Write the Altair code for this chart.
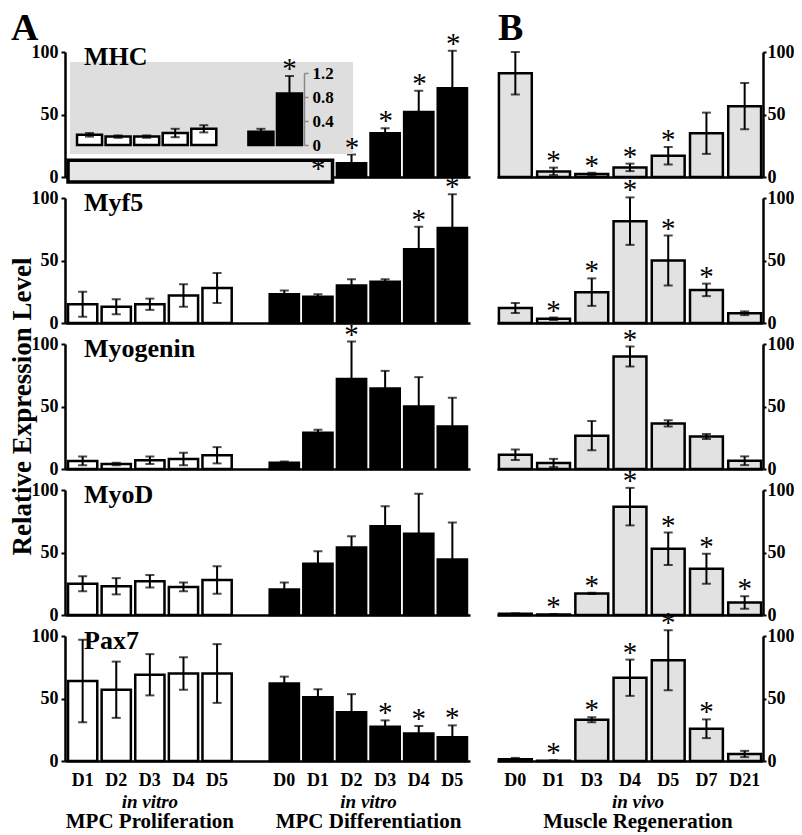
import altair as alt
import pandas as pd

FONT = "Liberation Serif"

GENES = ["MHC", "Myf5", "Myogenin", "MyoD", "Pax7"]
PROLIF_DAYS = ["D1", "D2", "D3", "D4", "D5"]
DIFF_DAYS = ["D0", "D1", "D2", "D3", "D4", "D5"]
REGEN_DAYS = ["D0", "D1", "D3", "D4", "D5", "D7", "D21"]

# ---- A: in vitro MPC proliferation (white bars) ----
MHC_PROLIF = [0.17, 0.14, 0.14, 0.20, 0.27]
MHC_PROLIF_ERR = [0.03, 0.02, 0.02, 0.07, 0.06]
MYF5_PROLIF = [15, 13, 15, 22, 28]
MYF5_PROLIF_ERR = [10, 6, 4.5, 9, 12]
MYOG_PROLIF = [6.5, 4, 7, 8, 11]
MYOG_PROLIF_ERR = [3.5, 1, 3, 5, 6.5]
MYOD_PROLIF = [25, 23, 27, 22.5, 28]
MYOD_PROLIF_ERR = [6, 6.5, 5, 3.5, 11]
PAX7_PROLIF = [64, 57, 69, 70, 70]
PAX7_PROLIF_ERR = [33, 22.5, 16.5, 13, 23.5]

# ---- A: in vitro MPC differentiation (black bars) ----
MHC_DIFF = [0.22, 0.86, 11, 35, 52, 71]
MHC_DIFF_ERR = [0.05, 0.29, 7, 4, 17, 30]
MHC_DIFF_SIG = [0, 1, 1, 1, 1, 1]
MYF5_DIFF = [23, 21, 30, 33, 59, 76]
MYF5_DIFF_ERR = [3, 2, 5, 2, 18, 27]
MYF5_DIFF_SIG = [0, 0, 0, 0, 1, 1]
MYOG_DIFF = [5, 29, 72, 64.5, 50, 34]
MYOG_DIFF_ERR = [1, 2.5, 30, 14, 23.5, 23]
MYOG_DIFF_SIG = [0, 0, 1, 0, 0, 0]
MYOD_DIFF = [20.5, 41, 54, 71, 65, 44.5]
MYOD_DIFF_ERR = [5.5, 10, 9, 16, 32, 29.5]
MYOD_DIFF_SIG = [0, 0, 0, 0, 0, 0]
PAX7_DIFF = [62, 51, 39, 27.5, 22, 19]
PAX7_DIFF_ERR = [5.5, 6.5, 14.5, 5, 6, 9.5]
PAX7_DIFF_SIG = [0, 0, 0, 1, 1, 1]

# ---- B: in vivo muscle regeneration (grey bars) ----
MHC_REGEN = [83, 4.5, 2.4, 7.7, 17, 35, 56.7]
MHC_REGEN_ERR = [17, 3, 1, 3, 7, 16.5, 18.5]
MHC_REGEN_SIG = [0, 1, 1, 1, 1, 0, 0]
MYF5_REGEN = [12, 3.4, 24.7, 81.5, 50, 26.5, 7.8]
MYF5_REGEN_ERR = [4, 1, 11, 19, 20, 5, 1.5]
MYF5_REGEN_SIG = [0, 1, 1, 1, 1, 1, 0]
MYOG_REGEN = [11.4, 4.8, 26.7, 90, 36.5, 26, 6.6]
MYOG_REGEN_ERR = [4.2, 3.3, 11.7, 8, 2.5, 2, 3.5]
MYOG_REGEN_SIG = [0, 0, 0, 1, 0, 0, 0]
MYOD_REGEN = [1, 0.5, 17.3, 86.7, 53, 37, 10]
MYOD_REGEN_ERR = [0.3, 0.2, 0.5, 15, 13, 12, 5]
MYOD_REGEN_SIG = [0, 1, 1, 1, 1, 1, 1]
PAX7_REGEN = [1.5, 0.3, 33, 66.6, 80.6, 25.8, 5.6]
PAX7_REGEN_ERR = [1, 0.2, 2, 14.5, 24, 7.5, 2.5]
PAX7_REGEN_SIG = [0, 1, 1, 1, 1, 1, 0]

# inset (MHC, zoomed 0-1.2 scale) and axis ticks
INSET_TICKS = [0, 0.4, 0.8, 1.2]
Y_TICKS = [0, 25, 50, 75, 100]
HIGHLIGHT_Y = [-4, 13.5]

GROUP_LABELS = [("in vitro", "MPC Proliferation"),
                ("in vitro", "MPC Differentiation"),
                ("in vivo", "Muscle Regeneration")]

A_DATA = {
    "MHC": (MHC_PROLIF, MHC_PROLIF_ERR, MHC_DIFF, MHC_DIFF_ERR, MHC_DIFF_SIG),
    "Myf5": (MYF5_PROLIF, MYF5_PROLIF_ERR, MYF5_DIFF, MYF5_DIFF_ERR, MYF5_DIFF_SIG),
    "Myogenin": (MYOG_PROLIF, MYOG_PROLIF_ERR, MYOG_DIFF, MYOG_DIFF_ERR, MYOG_DIFF_SIG),
    "MyoD": (MYOD_PROLIF, MYOD_PROLIF_ERR, MYOD_DIFF, MYOD_DIFF_ERR, MYOD_DIFF_SIG),
    "Pax7": (PAX7_PROLIF, PAX7_PROLIF_ERR, PAX7_DIFF, PAX7_DIFF_ERR, PAX7_DIFF_SIG),
}
B_DATA = {
    "MHC": (MHC_REGEN, MHC_REGEN_ERR, MHC_REGEN_SIG),
    "Myf5": (MYF5_REGEN, MYF5_REGEN_ERR, MYF5_REGEN_SIG),
    "Myogenin": (MYOG_REGEN, MYOG_REGEN_ERR, MYOG_REGEN_SIG),
    "MyoD": (MYOD_REGEN, MYOD_REGEN_ERR, MYOD_REGEN_SIG),
    "Pax7": (PAX7_REGEN, PAX7_REGEN_ERR, PAX7_REGEN_SIG),
}

A_KEYS = ["P|" + d for d in PROLIF_DAYS] + ["G|"] + ["C|" + d for d in DIFF_DAYS]
INSET_KEYS = A_KEYS[:8]

A_W, B_W, H = 405, 266, 125
GREY_BAR = "#e2e2e2"

xa_scale = alt.Scale(domain=A_KEYS, paddingInner=0.13, paddingOuter=0.09)
xb_scale = alt.Scale(domain=REGEN_DAYS, paddingInner=0.14, paddingOuter=0.05)
y_scale = alt.Scale(domain=[0, 100], nice=False, zero=False)


def y_axis(orient):
    return alt.Axis(orient=orient, values=Y_TICKS,
                    labelExpr="datum.value % 50 == 0 ? datum.label : ''",
                    tickSize=4 if orient == "left" else 3, tickWidth=2,
                    domainWidth=2.5, labelPadding=3 if orient == "left" else 1,
                    grid=False, title=None)


def x_axis(show, key_expr):
    return alt.Axis(labels=show, labelExpr=key_expr, ticks=False, domainWidth=2.5,
                    labelAngle=0, labelPadding=10, title=None, grid=False)


def bar_layers(df, xfield, xscale, xaxis, yaxis, fill):
    base = alt.Chart(df)
    x = alt.X(xfield, scale=xscale, axis=xaxis, title=None)
    xs = alt.X(xfield, scale=xscale, title=None)
    bars = base.mark_bar(stroke="black", strokeWidth=2.5).encode(
        x=x, y=alt.Y("v:Q", scale=y_scale, axis=yaxis, title=None), fill=fill)
    err = base.mark_rule(color="black", strokeWidth=2).encode(
        x=xs, y=alt.Y("lo:Q", scale=y_scale, title=None), y2="hi:Q")
    cap_hi = base.mark_tick(color="black", thickness=2, size=9).encode(
        x=xs, y=alt.Y("hi:Q", scale=y_scale, title=None))
    cap_lo = base.mark_tick(color="black", thickness=2, size=9).encode(
        x=xs, y=alt.Y("lo:Q", scale=y_scale, title=None))
    return [bars, err, cap_hi, cap_lo]


def star_layer(df, xfield, xscale, yscale, no_axis=False):
    kw = {"axis": None} if no_axis else {}
    return alt.Chart(df).transform_filter("datum.sig == 1").mark_text(
        text="*", font=FONT, fontSize=29, baseline="alphabetic", dy=2).encode(
        x=alt.X(xfield, scale=xscale, title=None, **kw),
        y=alt.Y("hi:Q", scale=yscale, title=None, **kw))


def label_text(txt, x, y, size, align="left", baseline="middle", angle=0, style="normal"):
    return alt.Chart(pd.DataFrame({"t": [txt]})).mark_text(
        font=FONT, fontSize=size, fontWeight="bold", align=align, baseline=baseline,
        angle=angle, fontStyle=style, color="black").encode(
        x=alt.value(x), y=alt.value(y), text="t:N")


def a_frame(gene):
    pm, pe, dm, de, ds = A_DATA[gene]
    rows = []
    for d, v, e in zip(PROLIF_DAYS, pm, pe):
        rows.append({"k": "P|" + d, "v": v, "lo": v - e, "hi": v + e, "grp": "P", "sig": 0})
    for d, v, e, s in zip(DIFF_DAYS, dm, de, ds):
        rows.append({"k": "C|" + d, "v": v, "lo": v - e, "hi": v + e, "grp": "C", "sig": s})
    return pd.DataFrame(rows)


def a_panel(i, gene):
    df = a_frame(gene)
    bottom = i == len(GENES) - 1
    fill = alt.Fill("grp:N", scale=alt.Scale(domain=["P", "C"], range=["white", "black"]), legend=None)
    layers = bar_layers(df, "k:N", xa_scale,
                        x_axis(bottom, "split(datum.value, '|')[1]"),
                        y_axis("left"), fill)
    if gene == "MHC":
        box = alt.Chart(pd.DataFrame({"x0": [A_KEYS[0]], "x1": [A_KEYS[7]],
                                      "y0": [HIGHLIGHT_Y[0]], "y1": [HIGHLIGHT_Y[1]]})).mark_rect(
            fill="#e6e6e6", stroke="black", strokeWidth=3.5).encode(
            x=alt.X("x0:N", scale=xa_scale, bandPosition=0, title=None),
            x2=alt.X2("x1:N", bandPosition=1),
            y=alt.Y("y0:Q", scale=y_scale, title=None), y2="y1:Q")
        layers.append(box)
    else:
        layers.append(star_layer(df, "k:N", xa_scale, y_scale))
    extra = []
    if gene == "MHC":
        extra.append(label_text("A", -54, -42, 38, baseline="top"))
    if gene == "Myogenin":
        extra.append(label_text("Relative Expression Level", -42, H / 2, 27,
                                align="center", angle=270))
    if bottom:
        gdf = pd.DataFrame({"k": ["P|D3", "C|D2"],
                            "it": [GROUP_LABELS[0][0], GROUP_LABELS[1][0]],
                            "nm": [GROUP_LABELS[0][1], GROUP_LABELS[1][1]],
                            "dx": [0, 17]})
        for field, yy, style, size in [("it", H + 41, "italic", 19), ("nm", H + 60.5, "normal", 21)]:
            for _, r in gdf.iterrows():
                extra.append(alt.Chart(gdf[gdf.k == r.k]).mark_text(
                    font=FONT, fontSize=size, fontWeight="bold", fontStyle=style,
                    baseline="middle", dx=int(r.dx), color="black").encode(
                    x=alt.X("k:N", scale=xa_scale, title=None),
                    y=alt.value(yy), text=f"{field}:N"))
    main = alt.layer(*layers, *extra)
    if gene != "MHC":
        return alt.layer(main, label_text(gene, 19, 5, 26)).properties(width=A_W, height=H)

    # ---- inset with zoomed scale ----
    pm, pe, dm, de, ds = A_DATA["MHC"]
    irows = []
    for d, v, e in zip(PROLIF_DAYS, pm, pe):
        irows.append({"k": "P|" + d, "v": v, "lo": v - e, "hi": v + e, "grp": "P", "sig": 0})
    for d, v, e, s in list(zip(DIFF_DAYS, dm, de, ds))[:2]:
        irows.append({"k": "C|" + d, "v": v, "lo": v - e, "hi": v + e, "grp": "C", "sig": s})
    idf = pd.DataFrame(irows)
    xi = alt.Scale(domain=INSET_KEYS, range=[10.6, 238.4], paddingInner=0.125, paddingOuter=0.05)
    yi = alt.Scale(domain=[0, 1.2], range=[93, 21], nice=False)
    ib = alt.Chart(idf)
    bg = alt.Chart(pd.DataFrame({"a": [0]})).mark_rect(fill="#dedede").encode(
        x=alt.value(5), x2=alt.value(288), y=alt.value(10), y2=alt.value(102))
    ibars = ib.mark_bar(stroke="black", strokeWidth=2.5).encode(
        x=alt.X("k:N", scale=xi, axis=None, title=None),
        y=alt.Y("v:Q", scale=yi, title=None,
                axis=alt.Axis(orient="right", offset=-(A_W - 239), values=INSET_TICKS,
                              labelExpr="datum.value == 0 ? '0' : format(datum.value, '.1f')",
                              domainColor="#888888", domainWidth=1.5, tickColor="#888888",
                              tickSize=4, tickWidth=1.5, labelPadding=4, grid=False,
                              title=None, zindex=1, labelFontSize=17)),
        fill=alt.Fill("grp:N", scale=alt.Scale(domain=["P", "C"], range=["white", "black"]), legend=None))
    ierr = ib.mark_rule(color="black", strokeWidth=2).encode(
        x=alt.X("k:N", scale=xi, title=None), y=alt.Y("lo:Q", scale=yi, title=None), y2="hi:Q")
    icap1 = ib.mark_tick(color="black", thickness=2, size=9).encode(
        x=alt.X("k:N", scale=xi, title=None), y=alt.Y("hi:Q", scale=yi, title=None))
    icap2 = ib.mark_tick(color="black", thickness=2, size=9).encode(
        x=alt.X("k:N", scale=xi, title=None), y=alt.Y("lo:Q", scale=yi, title=None))
    istar = star_layer(idf, "k:N", xi, yi)
    inset = alt.layer(bg, ibars, ierr, icap1, icap2, istar)
    main_stars = star_layer(df, "k:N", xa_scale, y_scale, no_axis=True)
    return alt.layer(main, inset, main_stars, label_text(gene, 19, 5, 26)).resolve_scale(
        x="independent", y="independent").properties(width=A_W, height=H)


def b_panel(i, gene):
    m, e, s = B_DATA[gene]
    df = pd.DataFrame({"k": REGEN_DAYS, "v": m,
                       "lo": [a - b for a, b in zip(m, e)],
                       "hi": [a + b for a, b in zip(m, e)], "sig": s})
    bottom = i == len(GENES) - 1
    layers = bar_layers(df, "k:N", xb_scale, x_axis(bottom, "datum.label"),
                        y_axis("right"), alt.value(GREY_BAR))
    layers.append(star_layer(df, "k:N", xb_scale, y_scale))
    if gene == "MHC":
        layers.append(label_text("B", 1, -42, 38, baseline="top"))
    if bottom:
        gdf = pd.DataFrame({"k": ["D4"], "it": [GROUP_LABELS[2][0]], "nm": [GROUP_LABELS[2][1]]})
        layers.append(alt.Chart(gdf).mark_text(font=FONT, fontSize=19, fontWeight="bold",
                                               fontStyle="italic", baseline="middle", dx=8,
                                               color="black").encode(
            x=alt.X("k:N", scale=xb_scale, title=None), y=alt.value(H + 41), text="it:N"))
        layers.append(alt.Chart(gdf).mark_text(font=FONT, fontSize=21, fontWeight="bold",
                                               baseline="middle", dx=8, color="black").encode(
            x=alt.X("k:N", scale=xb_scale, title=None), y=alt.value(H + 60.5), text="nm:N"))
    return alt.layer(*layers).properties(width=B_W, height=H)


panels = []
for i, g in enumerate(GENES):
    panels.append(a_panel(i, g))
    panels.append(b_panel(i, g))

chart = alt.concat(*panels, columns=2, spacing={"row": 21, "column": 27},
                   bounds="flush").properties(
    padding={"left": 0, "top": 2, "right": 0, "bottom": 0}
).configure_view(stroke=None).configure_axis(
    labelFont=FONT, labelFontSize=18, labelFontWeight="bold", labelColor="black",
    domainColor="black", tickColor="black", grid=False
).configure_text(font=FONT)

chart.save("out.html", embed_options={"renderer": "svg", "actions": False})
